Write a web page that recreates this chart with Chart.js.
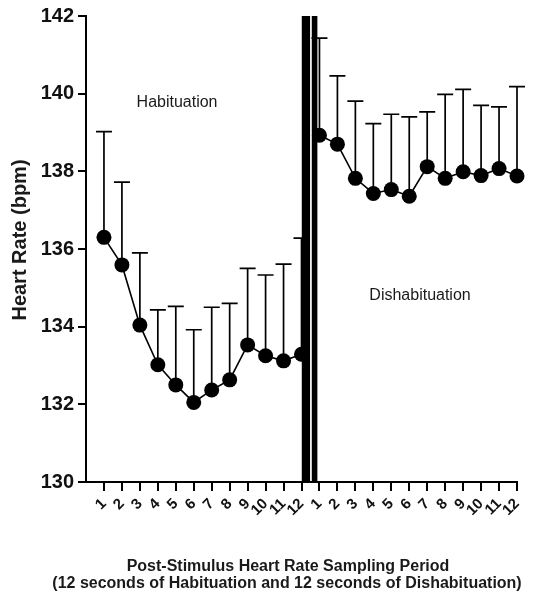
<!DOCTYPE html>
<html><head><meta charset="utf-8">
<script src="https://cdn.jsdelivr.net/npm/chart.js@4.4.0/dist/chart.umd.min.js"></script>
<style>html,body{margin:0;padding:0;background:#fff;}#wrap{width:548px;height:597px;}</style>
</head><body><div id="wrap"><canvas id="c" width="548" height="597"></canvas></div>
<script>
// ---- data ----
const periodLabels = ['1','2','3','4','5','6','7','8','9','10','11','12'];
const habituationMean = [136.30,135.59,134.04,133.02,132.50,132.05,132.37,132.63,133.53,133.25,133.12,133.29];
const habituationSEM  = [2.72,2.13,1.86,1.41,2.02,1.87,2.13,1.97,1.97,2.08,2.49,2.99];
const dishabituationMean = [138.93,138.70,137.82,137.43,137.53,137.36,138.12,137.82,137.99,137.89,138.07,137.88];
const dishabituationSEM  = [2.50,1.76,1.99,1.80,1.94,2.04,1.41,2.16,2.12,1.81,1.59,2.30];
const yTickValues = [130,132,134,136,138,140,142];
const phaseNames = ['Habituation','Dishabituation'];
const yTitle = 'Heart Rate (bpm)';
const xTitle = ['Post-Stimulus Heart Rate Sampling Period','(12 seconds of Habituation and 12 seconds of Dishabituation)'];

// positions: habituation at 1..12, dishabituation at 13..24 on a shared linear axis
const n = periodLabels.length;
const xPositions = [];
const xTickLabels = [];
periodLabels.forEach((l,i)=>{xPositions.push(i+1);xTickLabels.push(l);});
periodLabels.forEach((l,i)=>{xPositions.push(n+i+1);xTickLabels.push(l);});

const habData = habituationMean.map((v,i)=>({x:i+1,y:v}));
const disData = dishabituationMean.map((v,i)=>({x:n+i+1,y:v}));

const FONT = 'Arial, "Liberation Sans", Helvetica, sans-serif';

const errorBars = {
  id:'errorBars',
  beforeDatasetsDraw(chart){
    const {ctx, scales:{x,y}} = chart;
    ctx.save(); ctx.strokeStyle='#000'; ctx.lineWidth=1.7; ctx.lineCap='butt';
    chart.data.datasets.forEach(ds=>{
      ds.data.forEach((p,i)=>{
        const px=x.getPixelForValue(p.x), py=y.getPixelForValue(p.y), pt=y.getPixelForValue(p.y+ds.sem[i]);
        ctx.beginPath(); ctx.moveTo(px,py); ctx.lineTo(px,pt);
        ctx.moveTo(px-8,pt); ctx.lineTo(px+8,pt); ctx.stroke();
      });
    });
    ctx.restore();
  }
};

const axisBreak = {
  id:'axisBreak',
  afterDatasetsDraw(chart){
    const {ctx, chartArea:a, scales:{x}} = chart;
    const mid = (x.getPixelForValue(n)+x.getPixelForValue(n+1))/2;
    ctx.save(); ctx.fillStyle='#000';
    ctx.fillRect(mid-8.7, a.top, 8.3, a.bottom-a.top);
    ctx.fillRect(mid+1.3, a.top, 5.6, a.bottom-a.top);
    ctx.restore();
  }
};

const texts = {
  id:'texts',
  afterDraw(chart){
    const {ctx, scales:{x,y}} = chart;
    ctx.save(); ctx.fillStyle='#1a1a1a'; ctx.textAlign='center'; ctx.textBaseline='middle';
    ctx.font = '16px '+FONT;
    ctx.fillText(phaseNames[0], x.getPixelForValue(5.07), y.getPixelForValue(139.77));
    ctx.fillText(phaseNames[1], x.getPixelForValue(18.6), y.getPixelForValue(134.8));
    ctx.font = 'bold 16px '+FONT;
    ctx.fillText(xTitle[0], 288, 567);
    ctx.fillText(xTitle[1], 287, 584);
    ctx.translate(20,240); ctx.rotate(-Math.PI/2);
    ctx.font = 'bold 20px '+FONT;
    ctx.fillText(yTitle, 0, 0);
    ctx.restore();
  }
};

new Chart(document.getElementById('c'), {
  type:'scatter',
  data:{datasets:[
    {label:phaseNames[0], data:habData, sem:habituationSEM, showLine:true, borderColor:'#000', borderWidth:1.6,
     pointRadius:7.5, pointBackgroundColor:'#000', pointBorderColor:'#000', pointBorderWidth:0, clip:false},
    {label:phaseNames[1], data:disData, sem:dishabituationSEM, showLine:true, borderColor:'#000', borderWidth:1.6,
     pointRadius:7.5, pointBackgroundColor:'#000', pointBorderColor:'#000', pointBorderWidth:0, clip:false}
  ]},
  options:{
    responsive:false, animation:false, devicePixelRatio:1,
    layout:{padding:{top:16,right:31,left:0,bottom:0}},
    plugins:{legend:{display:false}, tooltip:{enabled:false}},
    scales:{
      x:{type:'linear', min:0, max:2*n,
         afterBuildTicks(s){ s.ticks = xPositions.map(v=>({value:v})); },
         afterFit(s){ s.height = 115; },
         border:{display:true,color:'#000',width:2},
         grid:{drawOnChartArea:false, drawTicks:true, tickLength:9, color:'#000', lineWidth:2},
         ticks:{autoSkip:false, maxRotation:45, minRotation:45, padding:4, color:'#111',
                font:{family:FONT, size:15, weight:'bold'},
                callback:(v,i)=>xTickLabels[i]}},
      y:{type:'linear', min:130, max:142,
         afterBuildTicks(s){ s.ticks = yTickValues.map(v=>({value:v})); },
         afterFit(s){ s.width = 86; },
         border:{display:true,color:'#000',width:2},
         grid:{drawOnChartArea:false, drawTicks:true, tickLength:8, color:'#000', lineWidth:2},
         ticks:{padding:4, color:'#111', font:{family:FONT, size:20, weight:'bold'}}}
    }
  },
  plugins:[errorBars, axisBreak, texts]
});
</script></body></html>
